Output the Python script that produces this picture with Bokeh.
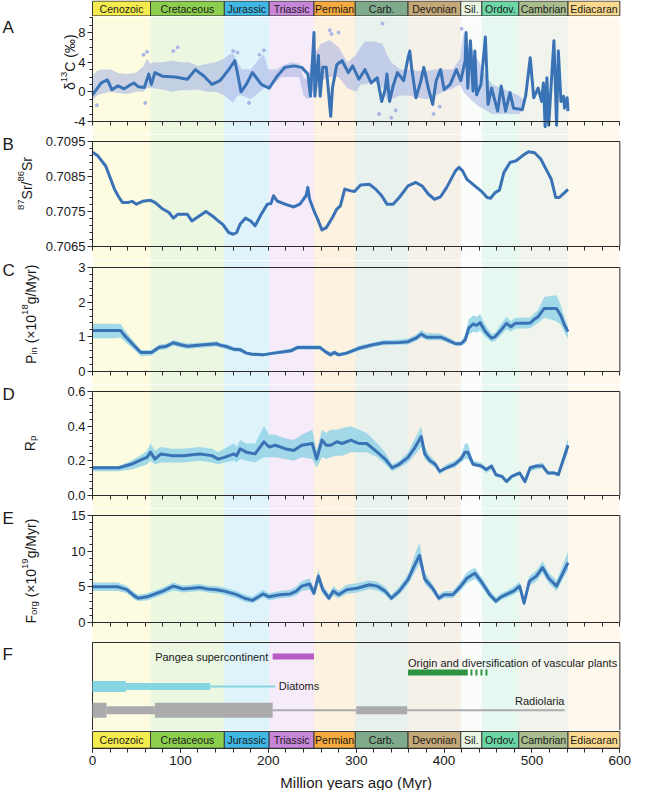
import math
from bokeh.plotting import figure
from bokeh.layouts import column
from bokeh.models import (Range1d, LinearAxis, SingleIntervalTicker, FixedTicker,
                          BoxAnnotation, NumeralTickFormatter)
from bokeh.embed import file_html
from bokeh.resources import INLINE
from bokeh.core.properties import value

# ---------------------------------------------------------------- data
period_names = ["Cenozoic", "Cretaceous", "Jurassic", "Triassic", "Permian", "Carb.",
                "Devonian", "Sil.", "Ordov.", "Cambrian", "Ediacaran"]
period_start = [0, 66, 150, 201, 252, 299, 359, 419, 443, 485, 541]
period_end = [66, 150, 201, 252, 299, 359, 419, 443, 485, 541, 600]

# A: d13C smoothed curve
a_x = [0, 5, 10, 17, 22, 29, 36, 41, 47, 52, 59, 64, 67, 71, 80, 94, 108, 117, 127, 136, 145, 155,
       162, 166, 169, 175, 182, 192, 201, 210, 219, 229, 238, 245, 248, 252, 253, 257, 259, 262, 266,
       271, 273, 278, 284, 291, 296, 303, 310, 317, 324, 329, 333, 335, 338, 342, 347, 354, 359, 361,
       363, 368, 373, 377, 382, 387, 391, 396, 400, 407, 414, 419, 424, 425, 427, 430, 433, 435, 437,
       442, 447, 450, 454, 461, 465, 470, 475, 479, 489, 493, 498, 502, 507, 511, 513, 515, 517, 519,
       522, 525, 528, 530, 533, 536, 537, 540, 541]
a_y = [-0.4, 0.4, 1.2, 1.6, 0.3, 0.8, 0.4, 0.8, 1.2, 0.7, 0.6, 2.4, 1.0, 2.6, 2.1, 2.0, 1.7, 3.0, 2.1,
       1.0, 1.5, 3.0, 4.2, 1.9, 0.0, 1.0, 2.6, 1.0, 0.5, 2.1, 3.3, 3.5, 3.3, 2.4, -0.6, 8.0, -0.6, 4.9,
       -0.6, 3.3, 3.3, -3.3, 0.5, 3.7, 4.2, 2.6, 3.5, 1.7, 3.0, 1.2, 1.9, -1.3, 0.3, 2.4, -1.3, 0.8,
       2.6, 1.5, 4.6, 5.5, 3.3, -0.8, 1.2, 3.3, 0.5, -1.7, 1.5, 3.0, 0.3, 1.0, 3.0, 1.5, 4.2, 8.0, 0.5,
       6.9, 0.1, 5.5, -0.4, 1.0, 7.4, -1.7, 0.5, -2.6, 0.8, -2.6, -0.1, -2.2, -2.4, -0.4, 4.6, -0.8,
       0.5, -1.3, 1.2, -4.7, 1.9, -4.5, 1.2, 6.9, -4.5, 5.5, -1.3, -0.6, -2.2, -0.8, -2.6]
# A: extent of the measurement cloud
cloud_x = [0, 5, 10, 20, 30, 40, 50, 58, 62, 66, 70, 80, 90, 100, 110, 120, 130, 140, 150, 155, 160,
           165, 170, 180, 190, 195, 200, 210, 215, 225, 235, 240, 245, 250, 255, 260, 270, 280, 290,
           300, 305, 310, 320, 330, 335, 340, 350, 360, 370, 380, 390, 400, 410, 418, 422, 430, 440,
           448, 455, 465, 475, 485, 490]
cloud_hi = [2.2, 2.8, 3.0, 3.0, 2.5, 2.4, 2.6, 3.5, 4.5, 3.8, 4.0, 4.0, 4.2, 4.0, 4.0, 3.5, 3.8, 4.0,
            4.5, 5.0, 5.2, 4.0, 3.0, 3.0, 4.5, 5.0, 3.0, 3.0, 3.5, 4.0, 3.8, 2.0, 1.5, 5.0, 5.5, 6.5,
            7.0, 6.0, 4.0, 5.0, 6.0, 6.8, 6.8, 6.5, 5.0, 4.0, 3.0, 3.0, 2.8, 2.8, 3.0, 3.0, 3.0, 4.5,
            8.0, 6.0, 4.0, 2.0, 1.0, 0.5, 0.0, -0.5, -1.0]
cloud_lo = [-1.2, -0.5, -0.3, 0.0, -0.2, -0.3, 0.0, 0.0, 0.5, 0.5, 0.5, 0.3, 0.0, 0.2, 0.2, 0.3, 0.0,
            0.0, -0.5, -1.0, -1.5, -0.5, -0.5, -1.0, 0.0, 0.5, 0.5, 1.5, 2.0, 2.0, 2.0, -0.5, -1.0,
            0.0, 0.5, 1.5, 2.0, 2.0, 0.5, 0.0, 1.0, 1.0, 1.5, 0.5, -1.0, -1.0, -0.5, -0.5, -0.8, -1.0,
            -0.5, 0.0, 0.5, 1.0, 0.0, -1.0, -2.0, -2.5, -3.0, -3.0, -3.0, -3.0, -2.5]
out_x = [5, 58, 62, 92, 97, 160, 165, 178, 190, 195, 270, 272, 280, 326, 330, 340, 345, 388, 395,
         420, 425, 60]
out_y = [-1.8, 5.0, 5.4, 5.5, 6.0, 5.5, 5.3, -1.5, 5.0, 5.6, 8.3, 7.8, 8.0, -3.0, 9.2, -3.5, -2.5,
         -3.0, -2.0, 8.5, 7.0, -1.5]

# B: 87Sr/86Sr
b_x = [0, 6, 15, 20, 25, 29, 34, 41, 45, 50, 57, 66, 71, 80, 87, 92, 97, 108, 113, 122, 129, 136,
       143, 148, 155, 160, 164, 168, 174, 180, 185, 192, 199, 203, 206, 210, 219, 229, 236, 240, 243,
       245, 247, 252, 257, 261, 266, 273, 278, 282, 287, 294, 298, 305, 315, 322, 329, 335, 342, 349,
       359, 368, 375, 382, 389, 396, 403, 413, 417, 421, 426, 435, 442, 449, 453, 458, 463, 468, 475,
       482, 489, 496, 503, 510, 517, 522, 527, 531, 535, 541]
b_y = [0.70919, 0.70909, 0.70880, 0.70847, 0.70814, 0.70795, 0.70776, 0.70776, 0.70779, 0.70771,
       0.70779, 0.70782, 0.70776, 0.70757, 0.70747, 0.70731, 0.70742, 0.70742, 0.70723, 0.70738,
       0.70750, 0.70738, 0.70723, 0.70714, 0.70690, 0.70685, 0.70690, 0.70714, 0.70731, 0.70723,
       0.70709, 0.70742, 0.70771, 0.70773, 0.70795, 0.70780, 0.70771, 0.70763, 0.70771, 0.70785,
       0.70795, 0.70819, 0.70785, 0.70752, 0.70723, 0.70697, 0.70704, 0.70733, 0.70757, 0.70766,
       0.70814, 0.70809, 0.70807, 0.70826, 0.70828, 0.70814, 0.70795, 0.70771, 0.70771, 0.70790,
       0.70823, 0.70833, 0.70823, 0.70800, 0.70785, 0.70792, 0.70819, 0.70866, 0.70876, 0.70866,
       0.70842, 0.70823, 0.70809, 0.70790, 0.70788, 0.70804, 0.70811, 0.70861, 0.70890, 0.70895,
       0.70909, 0.70921, 0.70918, 0.70900, 0.70866, 0.70842, 0.70790, 0.70790, 0.70799, 0.70813]

# C: P input
c_x = [0, 11, 25, 32, 36, 45, 55, 62, 67, 76, 83, 92, 99, 108, 117, 127, 141, 145, 152, 161, 168,
       175, 182, 194, 206, 226, 233, 243, 259, 266, 271, 275, 280, 289, 303, 319, 331, 349, 359, 368,
       374, 380, 392, 396, 403, 413, 419, 424, 428, 433, 437, 441, 447, 454, 458, 465, 471, 476, 481,
       491, 498, 502, 507, 514, 521, 528, 533, 537, 541]
c_mid = [1.18, 1.18, 1.18, 1.18, 1.05, 0.81, 0.55, 0.55, 0.55, 0.70, 0.72, 0.83, 0.78, 0.73, 0.75,
         0.77, 0.80, 0.76, 0.72, 0.64, 0.63, 0.53, 0.50, 0.48, 0.53, 0.60, 0.69, 0.69, 0.69, 0.55,
         0.48, 0.55, 0.48, 0.53, 0.67, 0.77, 0.83, 0.84, 0.86, 0.96, 1.08, 0.99, 0.99, 0.99, 0.92,
         0.80, 0.80, 0.91, 1.25, 1.37, 1.33, 1.41, 1.15, 0.96, 1.00, 1.20, 1.39, 1.29, 1.39, 1.39,
         1.40, 1.49, 1.58, 1.82, 1.82, 1.82, 1.60, 1.34, 1.15]
c_lo = [0.96, 0.96, 0.96, 0.97, 0.88, 0.68, 0.45, 0.45, 0.46, 0.62, 0.64, 0.74, 0.70, 0.65, 0.67,
        0.69, 0.72, 0.69, 0.65, 0.58, 0.57, 0.48, 0.45, 0.43, 0.48, 0.54, 0.63, 0.63, 0.63, 0.50,
        0.42, 0.48, 0.43, 0.47, 0.60, 0.70, 0.76, 0.77, 0.78, 0.87, 0.98, 0.90, 0.90, 0.90, 0.84,
        0.74, 0.74, 0.80, 1.05, 1.15, 1.12, 1.18, 1.00, 0.85, 0.88, 1.05, 1.22, 1.15, 1.24, 1.24,
        1.25, 1.32, 1.40, 1.55, 1.50, 1.45, 1.35, 1.12, 0.95]
c_hi = [1.38, 1.38, 1.38, 1.37, 1.22, 0.93, 0.63, 0.62, 0.62, 0.78, 0.79, 0.91, 0.86, 0.81, 0.82,
        0.84, 0.87, 0.83, 0.79, 0.70, 0.69, 0.58, 0.55, 0.53, 0.58, 0.66, 0.76, 0.76, 0.76, 0.61,
        0.56, 0.61, 0.54, 0.58, 0.74, 0.84, 0.90, 0.92, 0.95, 1.06, 1.20, 1.10, 1.10, 1.09, 1.01,
        0.87, 0.86, 1.05, 1.50, 1.62, 1.58, 1.65, 1.35, 1.08, 1.12, 1.38, 1.58, 1.45, 1.55, 1.55,
        1.56, 1.66, 1.78, 2.15, 2.18, 2.20, 1.90, 1.55, 1.30]

# D: Rp
d_x = [0, 30, 44, 57, 62, 66, 71, 78, 90, 103, 122, 136, 143, 150, 161, 164, 168, 175, 185, 195, 201,
       208, 219, 229, 238, 250, 255, 261, 266, 271, 278, 284, 294, 303, 312, 324, 333, 341, 349, 359,
       366, 374, 378, 384, 390, 395, 403, 412, 419, 424, 427, 433, 442, 448, 454, 459, 466, 471, 477,
       486, 492, 498, 505, 512, 518, 525, 530, 541]
d_mid = [0.16, 0.16, 0.18, 0.21, 0.22, 0.25, 0.21, 0.24, 0.23, 0.23, 0.24, 0.23, 0.21, 0.22, 0.24,
         0.23, 0.27, 0.25, 0.24, 0.31, 0.28, 0.29, 0.27, 0.26, 0.29, 0.30, 0.21, 0.32, 0.29, 0.29,
         0.31, 0.30, 0.32, 0.30, 0.30, 0.25, 0.21, 0.16, 0.18, 0.22, 0.27, 0.34, 0.24, 0.20, 0.18,
         0.14, 0.16, 0.18, 0.21, 0.25, 0.25, 0.18, 0.17, 0.15, 0.17, 0.12, 0.11, 0.08, 0.11, 0.13,
         0.08, 0.16, 0.17, 0.17, 0.13, 0.13, 0.12, 0.29]
d_lo = [0.14, 0.14, 0.15, 0.17, 0.18, 0.20, 0.18, 0.19, 0.19, 0.19, 0.20, 0.19, 0.18, 0.19, 0.20,
        0.19, 0.21, 0.20, 0.19, 0.22, 0.22, 0.22, 0.21, 0.20, 0.22, 0.21, 0.16, 0.22, 0.21, 0.22,
        0.23, 0.23, 0.25, 0.25, 0.25, 0.22, 0.18, 0.14, 0.16, 0.19, 0.23, 0.28, 0.21, 0.18, 0.16,
        0.12, 0.15, 0.16, 0.19, 0.21, 0.21, 0.17, 0.16, 0.13, 0.15, 0.11, 0.10, 0.075, 0.10, 0.12,
        0.07, 0.14, 0.15, 0.16, 0.12, 0.12, 0.11, 0.25]
d_hi = [0.17, 0.17, 0.20, 0.24, 0.26, 0.30, 0.26, 0.28, 0.27, 0.27, 0.28, 0.27, 0.25, 0.27, 0.30,
        0.28, 0.32, 0.30, 0.30, 0.40, 0.35, 0.35, 0.33, 0.32, 0.35, 0.38, 0.26, 0.38, 0.36, 0.38,
        0.38, 0.39, 0.40, 0.38, 0.36, 0.30, 0.25, 0.18, 0.20, 0.25, 0.32, 0.40, 0.28, 0.23, 0.20,
        0.15, 0.18, 0.20, 0.23, 0.30, 0.30, 0.20, 0.19, 0.16, 0.18, 0.13, 0.12, 0.09, 0.12, 0.14,
        0.09, 0.17, 0.18, 0.19, 0.14, 0.14, 0.13, 0.33]

# E: F org
e_x = [0, 29, 39, 48, 52, 62, 71, 80, 92, 103, 113, 122, 131, 141, 150, 164, 173, 182, 194, 201, 213,
       225, 232, 238, 247, 252, 257, 262, 269, 274, 280, 289, 301, 315, 324, 333, 340, 349, 359, 366,
       372, 378, 387, 394, 400, 410, 419, 426, 435, 442, 452, 459, 465, 472, 479, 486, 491, 497, 505,
       512, 519, 528, 541]
e_mid = [5.0, 5.0, 4.6, 3.7, 3.4, 3.6, 4.0, 4.4, 5.1, 4.7, 4.8, 4.9, 4.7, 4.6, 4.4, 3.9, 3.4, 3.1,
         4.0, 3.6, 3.9, 4.0, 4.4, 5.1, 5.4, 4.1, 6.5, 4.6, 3.4, 4.4, 3.9, 4.6, 4.8, 5.3, 5.1, 4.4,
         3.4, 4.4, 6.0, 7.9, 9.4, 6.1, 4.8, 3.4, 3.9, 3.9, 5.1, 6.2, 6.9, 5.8, 3.9, 3.0, 3.6, 4.0,
         4.4, 5.1, 2.7, 5.8, 6.5, 7.7, 6.2, 5.1, 8.4]
e_lo = [4.4, 4.4, 4.1, 3.2, 3.0, 3.1, 3.5, 3.9, 4.5, 4.2, 4.3, 4.4, 4.2, 4.1, 3.9, 3.4, 2.9, 2.7,
        3.5, 3.1, 3.4, 3.5, 3.8, 4.4, 4.6, 3.6, 5.6, 4.0, 3.0, 3.8, 3.4, 4.0, 4.2, 4.7, 4.5, 3.9,
        3.0, 3.9, 5.3, 6.9, 8.2, 5.4, 4.2, 3.0, 3.4, 3.4, 4.5, 5.5, 6.1, 5.1, 3.4, 2.6, 3.2, 3.5,
        3.9, 4.5, 2.3, 5.1, 5.8, 6.9, 5.5, 4.4, 7.4]
e_hi = [5.6, 5.6, 5.1, 4.2, 3.9, 4.1, 4.5, 4.9, 5.6, 5.2, 5.3, 5.4, 5.2, 5.1, 4.9, 4.4, 3.9, 3.6,
        4.6, 4.1, 4.4, 4.6, 5.0, 5.8, 6.2, 4.8, 7.4, 5.3, 4.0, 5.1, 4.5, 5.3, 5.5, 5.9, 5.7, 5.0,
        3.9, 5.0, 6.8, 9.2, 11.2, 7.0, 5.4, 3.9, 4.4, 4.4, 5.8, 7.0, 7.7, 6.5, 4.5, 3.5, 4.1, 4.5,
        5.0, 5.7, 3.2, 6.5, 7.3, 8.6, 7.0, 5.9, 9.9]

# F: events (Myr)
pangea_span = [205, 252]
plants_span = [359, 427]
plants_uncertain_span = [430, 450]
diatom_x0 = [0, 38, 134]
diatom_x1 = [38, 134, 208]
radio_x0 = [0, 16, 71, 205, 300, 358]
radio_x1 = [16, 71, 205, 300, 358, 537]

# tick values
a_ticks = [-4, 0, 4, 8]
b_ticks = [0.7065, 0.7075, 0.7085, 0.7095]
c_ticks = [0, 1, 2, 3]
d_ticks = [0.0, 0.2, 0.4, 0.6]
e_ticks = [0, 5, 10, 15]
x_tick_minor = list(range(0, 601, 20))

# ---------------------------------------------------------------- styles
FONT = "Liberation Sans"
TXT = "#1a1a1a"
AXC = "#2b2b2b"
LINE_C = "#3a72b6"
BAND_C = "#93d4e8"
CLOUD_C = "#a3b1e6"
period_colors = ["#f4eb4f", "#8ccf4f", "#41b7e3", "#c886d8", "#f4aa3f", "#7faa8c",
                 "#c5a878", "#eaf6e3", "#6dd6a5", "#aabd8f", "#fad98e"]
diatom_w = [11, 7, 2]
radio_w = [15, 8, 15, 2, 8, 2]

W = 634
LEFT = 92          # canvas x of the x = 0 axis
PXU = 530 / 603.0  # px per Myr
XL = -LEFT / PXU
XR = XL + W / PXU

CW = {'δ': .556, '1': .556, '3': .556, 'C': .722, ' ': .278, '(': .333, '‰': 1.0, ')': .333,
      '8': .556, '7': .556, 'S': .667, 'r': .333, '/': .278, '6': .556, 'P': .667, 'i': .222,
      'n': .556, '×': .584, '0': .556, 'g': .556, 'M': .833, 'y': .5, 'R': .722, 'p': .556,
      'F': .611, 'o': .556, '9': .556}


def text_px(s, size):
    return sum(CW.get(ch, .55) for ch in s) * size


def sx(px):
    """page x (px) -> data x"""
    return (px - 8 - LEFT) / PXU


def base_fig(h, y0, y1):
    p = figure(width=W, height=h, x_range=Range1d(XL, XR), y_range=Range1d(y0, y1),
               output_backend="svg", toolbar_location=None, x_axis_type=None, y_axis_type=None,
               min_border_left=0, min_border_right=0, min_border_top=0, min_border_bottom=0)
    p.outline_line_color = None
    p.background_fill_color = "white"
    p.border_fill_color = "white"
    return p


def add_bands(p):
    for s, e, c in zip(period_start, period_end, period_colors):
        p.add_layout(BoxAnnotation(left=s, right=e, fill_color=c, fill_alpha=0.17,
                                   line_color=None, level="underlay"))


def vlabel(p, parts, xc, yc, upp, size=14.0):
    small = size * 0.68
    lens = [text_px(t, size if k == "n" else small) for t, k in parts]
    y = yc - sum(lens) / 2 * upp
    for (t, k), L in zip(parts, lens):
        fs = size if k == "n" else small
        lead = len(t) - len(t.lstrip(" "))
        off = text_px(" " * lead, fs)
        dx = {"n": 0.0, "sup": -0.36 * size, "sub": 0.24 * size}[k]
        p.text(x=[xc + dx / PXU], y=[y + off * upp], text=[t.strip()], angle=math.pi / 2,
               text_align="left", text_baseline="middle", text_font=value(FONT),
               text_font_size=f"{fs:.1f}px", text_color=TXT)
        y += L * upp


def letter(p, t, y, baseline="middle"):
    p.text(x=[sx(10)], y=[y], text=[t], text_align="left", text_baseline=baseline,
           text_font=value(FONT), text_font_size="17px", text_color=TXT)


def panel(ymin, ymax, data_px, gap_px, top_px, ticks, minor_step, fmt):
    upp = (ymax - ymin) / data_px
    p = base_fig(data_px + gap_px + top_px, ymin - gap_px * upp, ymax + top_px * upp)
    add_bands(p)
    n_minor = int(round((ymax - ymin) / minor_step))
    minor = [ymin + i * minor_step for i in range(n_minor + 1)]
    yax = LinearAxis(ticker=FixedTicker(ticks=ticks, minor_ticks=minor), bounds=(ymin, ymax),
                     fixed_location=0)
    yax.formatter = NumeralTickFormatter(format=fmt)
    yax.axis_line_color = AXC
    yax.major_tick_line_color = AXC
    yax.minor_tick_line_color = AXC
    yax.major_tick_in = 0
    yax.major_tick_out = 5
    yax.minor_tick_in = 0
    yax.minor_tick_out = 3
    yax.major_label_text_font = FONT
    yax.major_label_text_font_size = "13px"
    yax.major_label_text_color = TXT
    yax.major_label_standoff = 2
    p.add_layout(yax, "left")
    xax = LinearAxis(ticker=FixedTicker(ticks=[], minor_ticks=x_tick_minor), bounds=(0, 600),
                     fixed_location=ymin)
    xax.axis_line_color = AXC
    xax.minor_tick_line_color = AXC
    xax.minor_tick_in = 0
    xax.minor_tick_out = 4
    p.add_layout(xax, "below")
    return p, upp


def box_lines(p, ymin, ymax):
    p.segment(x0=[0, 600], y0=[ymax, ymin], x1=[600, 600], y1=[ymax, ymax],
              line_color=AXC, line_width=1)


def period_bar(p):
    p.quad(left=period_start, right=period_end, bottom=0, top=1, fill_color=period_colors,
           line_color="#3a3a3a", line_width=1)
    mids = [(s + e) / 2 for s, e in zip(period_start, period_end)]
    p.text(x=mids, y=[0.5] * len(mids), text=period_names, text_font=value(FONT),
           text_font_size="10.5px", text_color=TXT, text_align="center", text_baseline="middle")


# ---------------------------------------------------------------- top bar
ptop = base_fig(16, -0.04, 1.04)
period_bar(ptop)

# ---------------------------------------------------------------- A
pA, uA = panel(-4, 10.16, 105, 13, 0, a_ticks, 1, "0")
pA.varea(x=cloud_x, y1=cloud_lo, y2=cloud_hi, fill_color=CLOUD_C, fill_alpha=0.55)
pA.scatter(out_x, out_y, size=3, color=CLOUD_C, alpha=0.9)
pA.line(a_x, a_y, line_color=LINE_C, line_width=3, line_join="round")
vlabel(pA, [("δ", "n"), ("13", "sup"), ("C (‰)", "n")], sx(77), 4.0, uA)
letter(pA, "A", 10.16 - 1 * uA, "top")

# ---------------------------------------------------------------- B
pB, uB = panel(0.7065, 0.7095, 105, 14, 7, b_ticks, 0.0002, "0.0000")
box_lines(pB, 0.7065, 0.7095)
pB.line(b_x, b_y, line_color=LINE_C, line_width=3, line_join="round")
vlabel(pB, [("87", "sup"), ("Sr/", "n"), ("86", "sup"), ("Sr", "n")], sx(34), 0.7083, uB)
letter(pB, "B", 0.7095 - 3 * uB)

# ---------------------------------------------------------------- C
pC, uC = panel(0, 3, 104, 13, 7, c_ticks, 0.2, "0")
box_lines(pC, 0, 3)
pC.varea(x=c_x, y1=c_lo, y2=c_hi, fill_color=BAND_C, fill_alpha=0.85)
pC.line(c_x, c_mid, line_color=LINE_C, line_width=3, line_join="round")
vlabel(pC, [("P", "n"), ("in", "sub"), (" (×10", "n"), ("18", "sup"), ("g/Myr)", "n")],
       sx(38), 1.65, uC)
letter(pC, "C", 3.0 - 3 * uC)

# ---------------------------------------------------------------- D
pD, uD = panel(0, 0.6, 104, 13, 7, d_ticks, 0.04, "0.0")
box_lines(pD, 0, 0.6)
pD.varea(x=d_x, y1=d_lo, y2=d_hi, fill_color=BAND_C, fill_alpha=0.85)
pD.line(d_x, d_mid, line_color=LINE_C, line_width=3, line_join="round")
vlabel(pD, [("R", "n"), ("p", "sub")], sx(37), 0.30, uD)
letter(pD, "D", 0.6 - 3 * uD)

# ---------------------------------------------------------------- E
pE, uE = panel(0, 15, 107, 19, 7, e_ticks, 1, "0")
box_lines(pE, 0, 15)
pE.varea(x=e_x, y1=e_lo, y2=e_hi, fill_color=BAND_C, fill_alpha=0.85)
pE.line(e_x, e_mid, line_color=LINE_C, line_width=3, line_join="round")
vlabel(pE, [("F", "n"), ("org", "sub"), (" (×10", "n"), ("19", "sup"), ("g/Myr)", "n")],
       sx(38), 7.2, uE)
letter(pE, "E", 15.0 - 3 * uE)

# ---------------------------------------------------------------- F
FH = 89
pF = base_fig(FH, 0, 1 + 1.0 / FH)
add_bands(pF)
pF.segment(x0=[0, 0, 600], y0=[0, 1, 0], x1=[0, 600, 600], y1=[1, 1, 1], line_color=AXC, line_width=1)
ROW_PANGEA, ROW_PLANT_LBL, ROW_PLANT, ROW_DIATOM, ROW_RADIO_LBL, ROW_RADIO = 0.84, 0.77, 0.66, 0.50, 0.33, 0.23
pF.segment(x0=[pangea_span[0]], y0=[ROW_PANGEA], x1=[pangea_span[1]], y1=[ROW_PANGEA],
           line_color="#b85cc6", line_width=6, line_cap="butt")
pF.segment(x0=[plants_span[0]], y0=[ROW_PLANT], x1=[plants_span[1]], y1=[ROW_PLANT],
           line_color="#2f9442", line_width=6, line_cap="butt")
pF.segment(x0=[plants_uncertain_span[0]], y0=[ROW_PLANT], x1=[plants_uncertain_span[1]], y1=[ROW_PLANT],
           line_color="#2f9442", line_width=6, line_cap="butt", line_dash="2 3")
pF.segment(x0=diatom_x0, y0=[ROW_DIATOM] * 3, x1=diatom_x1, y1=[ROW_DIATOM] * 3,
           line_color="#86d5e2", line_width=diatom_w, line_cap="butt")
pF.segment(x0=radio_x0, y0=[ROW_RADIO] * 6, x1=radio_x1, y1=[ROW_RADIO] * 6,
           line_color="#ababae", line_width=radio_w, line_cap="butt")
pF.text(x=[pangea_span[0] - 5, plants_span[0], diatom_x1[-1] + 4, radio_x1[-1]],
        y=[ROW_PANGEA, ROW_PLANT_LBL, ROW_DIATOM, ROW_RADIO_LBL],
        text=["Pangea supercontinent", "Origin and diversification of vascular plants", "Diatoms", "Radiolaria"],
        text_align=["right", "left", "left", "right"], text_baseline="middle",
        text_font=value(FONT), text_font_size="11px", text_color=TXT)
letter(pF, "F", 0.97, "top")

# ---------------------------------------------------------------- bottom bar + axis
BAR_PX = 17
BELOW_PX = 43
pbot = base_fig(BAR_PX + BELOW_PX, -BELOW_PX / BAR_PX, 1 + 1.0 / BAR_PX)
period_bar(pbot)
bax = LinearAxis(ticker=SingleIntervalTicker(interval=100, num_minor_ticks=5), bounds=(0, 600),
                 fixed_location=0)
bax.axis_line_color = AXC
bax.major_tick_line_color = AXC
bax.minor_tick_line_color = AXC
bax.major_tick_in = 0
bax.major_tick_out = 4
bax.minor_tick_in = 0
bax.minor_tick_out = 4
bax.major_label_standoff = 4
bax.major_label_text_font = FONT
bax.major_label_text_font_size = "13.5px"
bax.major_label_text_color = TXT
pbot.add_layout(bax, "below")
pbot.text(x=[300], y=[-35.0 / BAR_PX], text=["Million years ago (Myr)"], text_align="center",
          text_baseline="middle", text_font=value(FONT), text_font_size="15px", text_color=TXT)

layout = column(ptop, pA, pB, pC, pD, pE, pF, pbot, spacing=0)
open("out.html", "w").write(file_html(layout, INLINE))
